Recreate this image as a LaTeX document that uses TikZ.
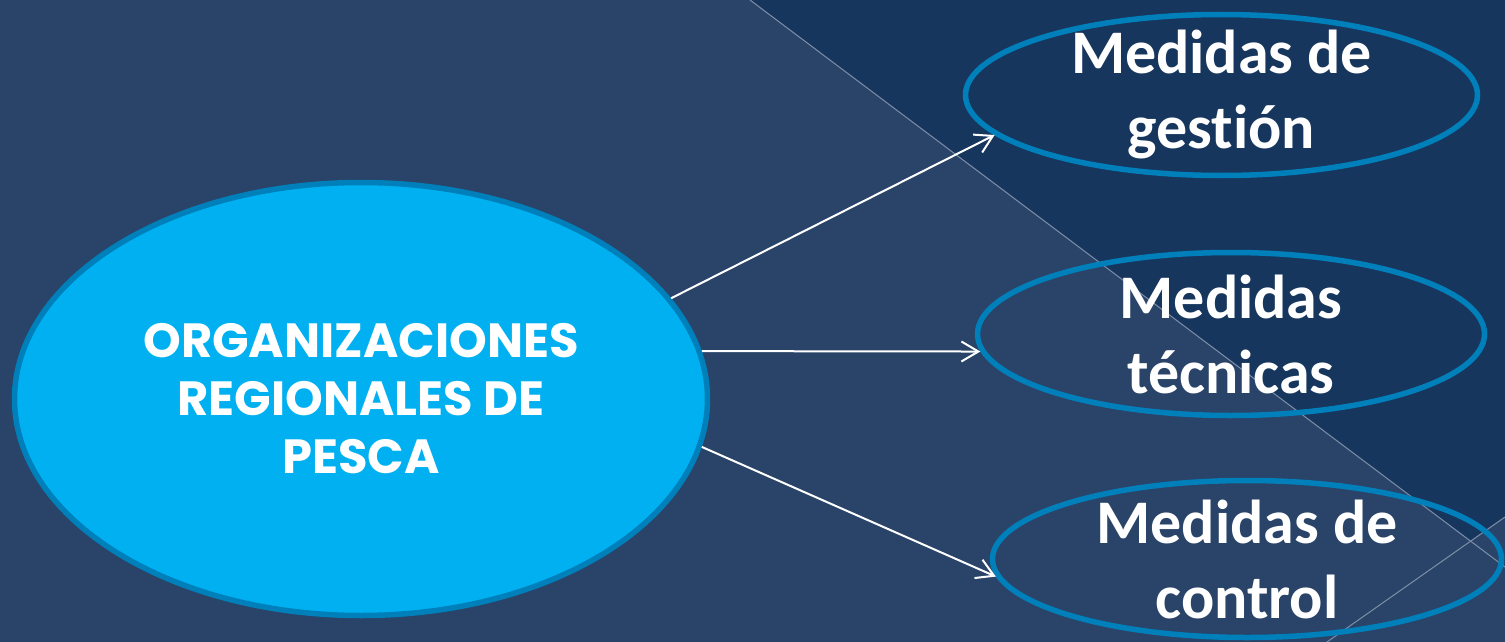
\documentclass[tikz,border=0pt]{standalone}
\usepackage{fontspec}
\newfontfamily\gothicfont{Poppins}
\newfontfamily\calibrifont{Carlito}[RawFeature={-liga;-clig;-calt;-dlig}]
\usetikzlibrary{shapes.geometric,arrows.meta}
\definecolor{bgLight}{RGB}{41,68,104}
\definecolor{bgDark}{RGB}{23,54,93}
\definecolor{skyBlue}{RGB}{0,176,240}
\definecolor{rimBlue}{RGB}{0,128,187}
\definecolor{facetLine}{RGB}{125,143,168}
\begin{document}
\begin{tikzpicture}[x=1pt, y=-1pt, >={Straight Barb[length=17pt,width=20pt]},
main node/.style={ellipse,draw=rimBlue,line width=5.5pt,inner xsep=0pt,inner ysep=-30pt,text=white,align=center},
side node/.style={main node,font=\calibrifont\bfseries\fontsize{62}{75}\selectfont}]
% background facets
\useasboundingbox (0,0) rectangle (1505,642);
\fill[bgLight] (0,0) rectangle (1505,642);
\fill[bgDark] (750,0) -- (1505,0) -- (1505,517) -- (1470.6,541) -- cycle;
\draw[facetLine, line width=1pt] (750,0) -- (1505,567);
\draw[facetLine, line width=1pt] (1327,642) -- (1505,517);
\begin{scope}
\node[main node, fill=skyBlue, minimum width=693pt, minimum height=433pt, inner ysep=0pt,
  font=\gothicfont\bfseries\fontsize{48}{58}\selectfont] (org) at (361,399) {ORGANIZACIONES\\REGIONALES DE\\PESCA};
\node[side node, minimum width=512pt, minimum height=161pt] (gest) at (1221.5,95) {Medidas de\\gestión};
\node[side node, minimum width=507pt, minimum height=163pt] (tec) at (1231,334) {Medidas\\técnicas};
\node[side node, minimum width=509pt, minimum height=157pt] (ctrl) at (1247,559) {Medidas de\\control};
\end{scope}
\begin{scope}[->, white, line width=2pt]
\draw (org.18) -- (gest.190);
\draw (org.8.5) -- (tec.184);
\draw (org.-8.5) -- (ctrl.184);
\end{scope}
\end{tikzpicture}
\end{document}
